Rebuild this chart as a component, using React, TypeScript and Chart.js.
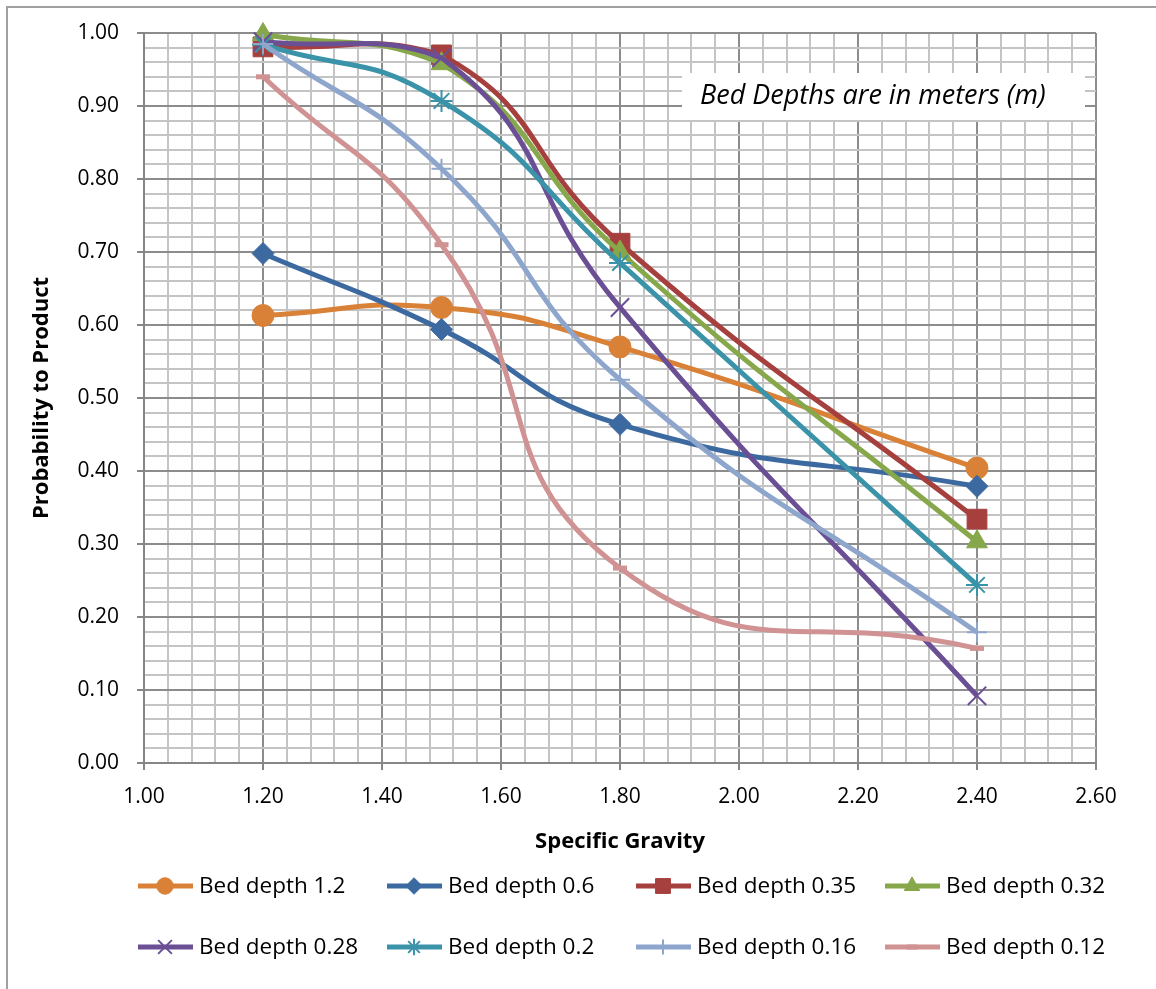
import React, { useEffect, useRef } from 'react';
import { Chart, registerables } from 'chart.js';
import { drawPoint } from 'chart.js/helpers';

Chart.register(...registerables);

// Specific gravity of the tested fractions
const specificGravity = [1.2, 1.5, 1.8, 2.4];

// Probability to product for each bed depth (m)
const bedDepth120 = [0.613, 0.624, 0.570, 0.404];
const bedDepth060 = [0.698, 0.594, 0.464, 0.379];
const bedDepth035 = [0.981, 0.970, 0.712, 0.334];
const bedDepth032 = [0.998, 0.958, 0.700, 0.303];
const bedDepth028 = [0.988, 0.966, 0.624, 0.092];
const bedDepth020 = [0.984, 0.907, 0.685, 0.244];
const bedDepth016 = [0.985, 0.814, 0.525, 0.179];
const bedDepth012 = [0.940, 0.710, 0.267, 0.157];

const seriesLabels = [
  'Bed depth 1.2',
  'Bed depth 0.6',
  'Bed depth 0.35',
  'Bed depth 0.32',
  'Bed depth 0.28',
  'Bed depth 0.2',
  'Bed depth 0.16',
  'Bed depth 0.12',
];
const seriesValues = [
  bedDepth120,
  bedDepth060,
  bedDepth035,
  bedDepth032,
  bedDepth028,
  bedDepth020,
  bedDepth016,
  bedDepth012,
];

const seriesColors = ['#DA8138', '#3C6AA0', '#A6403E', '#86A84A', '#6B4F95', '#3A93A8', '#8EA6CC', '#D09292'];
const markerStyles = ['circle', 'rectRot', 'rect', 'triangle', 'crossRot', 'star', 'cross', 'line'];
const markerRadii = [11, 11, 14, 12, 13, 11, 10, 7];
const markerBorder = [1, 1, 1, 1, 2, 2, 2, 5];

const xTitle = 'Specific Gravity';
const yTitle = 'Probability to Product';
const noteText = 'Bed Depths are in meters (m)';

const FONT = '"Open Sans", "Liberation Sans", sans-serif';
const MAJOR_GRID = '#8C8C8C';
const MINOR_GRID = '#C4C4C4';
const AXIS_LINE = '#868686';

const isMultiple = (v: number, step: number) => Math.abs(v / step - Math.round(v / step)) < 1e-6;

const decorations = {
  id: 'decorations',
  beforeDatasetsDraw(chart: any) {
    const { ctx } = chart;
    ctx.save();
    // note box over the grid
    ctx.fillStyle = '#FFFFFF';
    ctx.fillRect(682, 73, 403, 47);
    ctx.fillStyle = '#000000';
    ctx.font = `italic 27px ${FONT}`;
    ctx.textBaseline = 'middle';
    ctx.textAlign = 'left';
    ctx.fillText(noteText, 700, 96);
    ctx.restore();
  },
  afterDraw(chart: any) {
    const { ctx, chartArea } = chart;
    ctx.save();

    // outer chart frame
    ctx.strokeStyle = '#A0A0A0';
    ctx.lineWidth = 2;
    ctx.beginPath();
    ctx.moveTo(7, 1000);
    ctx.lineTo(7, 7);
    ctx.lineTo(1200, 7);
    ctx.stroke();

    // axis titles
    ctx.fillStyle = '#000000';
    ctx.font = `bold 22px ${FONT}`;
    ctx.textAlign = 'center';
    ctx.textBaseline = 'middle';
    ctx.fillText(xTitle, (chartArea.left + chartArea.right) / 2, 842);
    ctx.save();
    ctx.translate(42, (chartArea.top + chartArea.bottom) / 2);
    ctx.rotate(-Math.PI / 2);
    ctx.fillText(yTitle, 0, 0);
    ctx.restore();

    // legend: line sample with marker, two rows of four
    const colX = [138, 387, 636, 885];
    const rowY = [886, 947];
    ctx.font = `22.5px ${FONT}`;
    ctx.textAlign = 'left';
    seriesLabels.forEach((label, i) => {
      const x0 = colX[i % 4];
      const y = rowY[Math.floor(i / 4)];
      ctx.strokeStyle = seriesColors[i];
      ctx.lineWidth = 5;
      ctx.lineCap = 'butt';
      ctx.beginPath();
      ctx.moveTo(x0, y);
      ctx.lineTo(x0 + 55, y);
      ctx.stroke();
      ctx.fillStyle = seriesColors[i];
      ctx.strokeStyle = seriesColors[i];
      ctx.lineWidth = markerBorder[i];
      drawPoint(ctx, { pointStyle: markerStyles[i], radius: markerRadii[i] * 0.75, rotation: 0, borderWidth: markerBorder[i] }, x0 + 27, y);
      ctx.fillStyle = '#000000';
      ctx.fillText(label, x0 + 61, y + 1);
    });
    ctx.restore();
  },
};

export default function App() {
  const canvasRef = useRef<HTMLCanvasElement | null>(null);

  useEffect(() => {
    const canvas = canvasRef.current;
    if (!canvas) return;

    const datasets = seriesLabels.map((label, i) => ({
      label,
      data: specificGravity.map((x, j) => ({ x, y: seriesValues[i][j] })),
      borderColor: seriesColors[i],
      backgroundColor: seriesColors[i],
      borderWidth: 5,
      pointStyle: markerStyles[i],
      pointRadius: markerRadii[i],
      pointBorderWidth: markerBorder[i],
      pointBackgroundColor: seriesColors[i],
      pointBorderColor: seriesColors[i],
      tension: 0.5,
      cubicInterpolationMode: 'default',
      order: seriesLabels.length - i,
      clip: false,
    }));

    const chart = new Chart(canvas, {
      type: 'line',
      data: { datasets } as any,
      plugins: [decorations],
      options: {
        responsive: false,
        animation: false,
        devicePixelRatio: 1,
        layout: { padding: { left: 0, top: 33, right: 60, bottom: 0 } },
        plugins: { legend: { display: false }, tooltip: { enabled: false } },
        scales: {
          x: {
            type: 'linear',
            min: 1,
            max: 2.6,
            ticks: {
              stepSize: 0.04,
              autoSkip: false,
              maxRotation: 0,
              padding: 14,
              color: '#000000',
              font: { family: FONT, size: 21 },
              callback: (v: any) => (isMultiple(Number(v), 0.2) ? Number(v).toFixed(2) : ''),
            },
            grid: {
              lineWidth: 2,
              tickLength: 7,
              color: (c: any) => (c.tick && isMultiple(c.tick.value, 0.2) ? MAJOR_GRID : MINOR_GRID),
              tickColor: (c: any) => (c.tick && isMultiple(c.tick.value, 0.2) ? AXIS_LINE : 'rgba(0,0,0,0)'),
            },
            border: { color: AXIS_LINE, width: 2 },
            afterFit: (s: any) => {
              s.height = 226;
            },
          },
          y: {
            type: 'linear',
            min: 0,
            max: 1,
            ticks: {
              stepSize: 0.02,
              autoSkip: false,
              padding: 18,
              color: '#000000',
              font: { family: FONT, size: 21 },
              callback: (v: any) => (isMultiple(Number(v), 0.1) ? Number(v).toFixed(2) : ''),
            },
            grid: {
              lineWidth: 2,
              tickLength: 7,
              color: (c: any) => (c.tick && isMultiple(c.tick.value, 0.1) ? MAJOR_GRID : MINOR_GRID),
              tickColor: (c: any) => (c.tick && isMultiple(c.tick.value, 0.1) ? AXIS_LINE : 'rgba(0,0,0,0)'),
            },
            border: { color: AXIS_LINE, width: 2 },
            afterFit: (s: any) => {
              s.width = 144;
            },
          },
        },
      } as any,
    });

    return () => chart.destroy();
  }, []);

  return (
    <div style={{ position: 'absolute', left: 0, top: 0, width: 1156, height: 989, background: '#FFFFFF' }}>
      <canvas ref={canvasRef} width={1156} height={989} style={{ display: 'block' }} />
    </div>
  );
}
